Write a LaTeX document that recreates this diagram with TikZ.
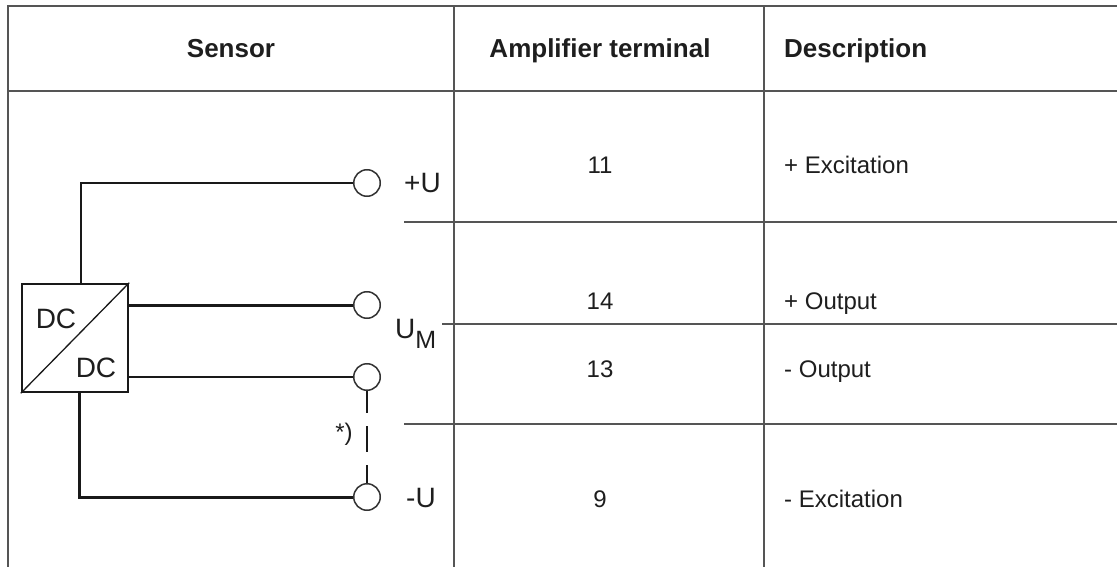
\documentclass[tikz,border=0pt]{standalone}
\usepackage{fontspec}
\setmainfont{Liberation Sans}
\definecolor{tablegray}{HTML}{555555}
\definecolor{txt}{HTML}{1E1E1E}
\begin{document}
\begin{tikzpicture}[x=1pt,y=-1pt,
  grid/.style={draw=tablegray, line width=1.3pt},
  wire/.style={draw=black!90, line width=2pt},
  thickwire/.style={draw=black!90, line width=3pt},
  term/.style={circle, draw=black!80, line width=1.5pt, minimum size=26.5pt, inner sep=0pt, fill=white},
  hdr/.style={font=\fontsize{26}{30}\selectfont\bfseries, text=txt, inner sep=0pt, anchor=base},
  cell/.style={font=\fontsize{24}{28}\selectfont, text=txt, inner sep=0pt, anchor=base},
  desc/.style={font=\fontsize{24}{28}\selectfont, text=txt, inner sep=0pt, anchor=base west},
  lbl/.style={font=\fontsize{28}{32}\selectfont, text=txt, inner sep=0pt, anchor=base west},
  conv/.style={draw=black!90, line width=2.5pt, minimum width=106pt, minimum height=108pt, inner sep=0pt},
]
\useasboundingbox (0,0) rectangle (1117,567);
% table grid
\draw[grid] (8,567) -- (8,6) -- (1117,6);
\draw[grid] (8,91) -- (1117,91);
\draw[grid] (454,6) -- (454,567);
\draw[grid] (764,6) -- (764,567);
\draw[grid] (404,222) -- (1117,222);
\draw[grid] (442,324) -- (1117,324);
\draw[grid] (404,424) -- (1117,424);
% headers
\node[hdr] (hs) at (231,58) {Sensor};
\node[hdr] (ha) at (600,58) {Amplifier terminal};
\node[hdr, anchor=base west] (hd) at (784,58) {Description};
% numbers
\node[cell] (n11) at (600,174) {11};
\node[cell] (n14) at (600,309) {14};
\node[cell] (n13) at (600,377) {13};
\node[cell] (n9)  at (600,507) {9};
% descriptions
\node[desc] (d1) at (784,174) {+ Excitation};
\node[desc] (d2) at (784,309) {+ Output};
\node[desc] (d3) at (784,377) {- Output};
\node[desc] (d4) at (784,507) {- Excitation};
% converter box
\node[conv] (dc) at (75,338) {};
\draw[black!90, line width=1.3pt] (dc.south west) -- (dc.north east);
\node[lbl, anchor=base] (dcu) at (56,328) {DC};
\node[lbl, anchor=base] (dcl) at (96,377) {DC};
% terminals
\node[term] (c1) at (367,183) {};
\node[term] (c2) at (367,305) {};
\node[term] (c3) at (367,377) {};
\node[term] (c4) at (367,497) {};
% wires
\draw[wire] ([xshift=5.5pt]dc.north) |- (c1.west);
\draw[thickwire] (dc.east |- c2) -- (c2.west);
\draw[wire] (dc.east |- c3) -- (c3.west);
\draw[thickwire] ([xshift=4pt]dc.south) |- (c4.west);
\draw[wire, dash pattern=on 26pt off 13pt, dash phase=4pt] (c3.south) -- (c4.north);
% labels
\node[lbl] (lpu) at (404,193) {+U};
\node[lbl] (lum) at (395,338) {U\raisebox{-10pt}{\fontsize{25}{28}\selectfont M}};
\node[lbl] (lmu) at (406,507) {-U};
\node[font=\fontsize{24}{28}\selectfont, text=txt, inner sep=0pt, anchor=base] (star) at (344,440) {*)};
\end{tikzpicture}
\end{document}
